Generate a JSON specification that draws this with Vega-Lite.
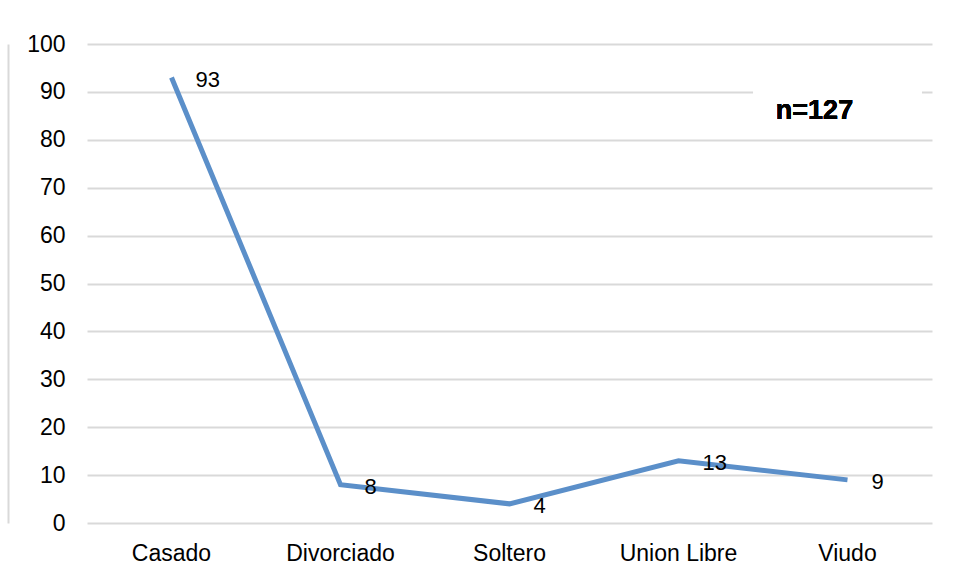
{
  "$schema": "https://vega.github.io/schema/vega-lite/v6.json",
  "width": 845,
  "height": 479,
  "autosize": {"type": "none"},
  "padding": {"left": 87, "top": 44, "right": 27, "bottom": 58},
  "background": "white",
  "config": {
    "view": {"stroke": null},
    "font": "Liberation Sans",
    "axis": {"labelFont": "Liberation Sans", "labelFontSize": 23, "labelColor": "#000000"}
  },
  "data": {
    "values": [
      {"estado": "Casado", "n": 93},
      {"estado": "Divorciado", "n": 8},
      {"estado": "Soltero", "n": 4},
      {"estado": "Union Libre", "n": 13},
      {"estado": "Viudo", "n": 9}
    ]
  },
  "resolve": {"axis": {"y": "independent"}},
  "layer": [
    {
      "mark": {"type": "line", "color": "#5B8FC9", "strokeWidth": 5, "strokeCap": "butt"},
      "encoding": {
        "x": {
          "field": "estado", "type": "nominal", "sort": null,
          "scale": {"type": "band", "paddingInner": 0, "paddingOuter": 0},
          "axis": {"title": null, "labelAngle": 0, "ticks": false, "domain": false, "labelPadding": 19, "grid": false}
        },
        "y": {
          "field": "n", "type": "quantitative",
          "scale": {"domain": [0, 100], "nice": false},
          "axis": {"title": null, "values": [0,10,20,30,40,50,60,70,80,90,100], "ticks": false, "domain": false, "labelPadding": 22, "gridColor": "#d9d9d9", "gridWidth": 2}
        }
      }
    },
    {
      "mark": {"type": "text", "align": "left", "baseline": "middle", "dx": 24, "dy": 2, "fontSize": 22, "color": "#000000"},
      "encoding": {
        "x": {"field": "estado", "type": "nominal", "sort": null},
        "y": {"field": "n", "type": "quantitative", "axis": null},
        "text": {"field": "n", "type": "quantitative"}
      }
    },
    {
      "mark": {"type": "bar", "color": "white", "width": 168, "xOffset": -10},
      "encoding": {
        "x": {"datum": "Viudo", "type": "nominal"},
        "y": {"datum": 94, "axis": {"orient": "left", "offset": 79, "title": null, "labels": false, "ticks": false, "grid": false, "domain": true, "domainColor": "#d9d9d9", "domainWidth": 2}},
        "y2": {"datum": 82}
      }
    },
    {
      "mark": {"type": "text", "align": "center", "baseline": "middle", "fontSize": 27, "fontWeight": "bold", "dx": -33, "color": "#000000"},
      "encoding": {
        "x": {"datum": "Viudo", "type": "nominal"},
        "y": {"datum": 86.0, "axis": null},
        "text": {"value": "n=127"}
      }
    }
  ]
}
